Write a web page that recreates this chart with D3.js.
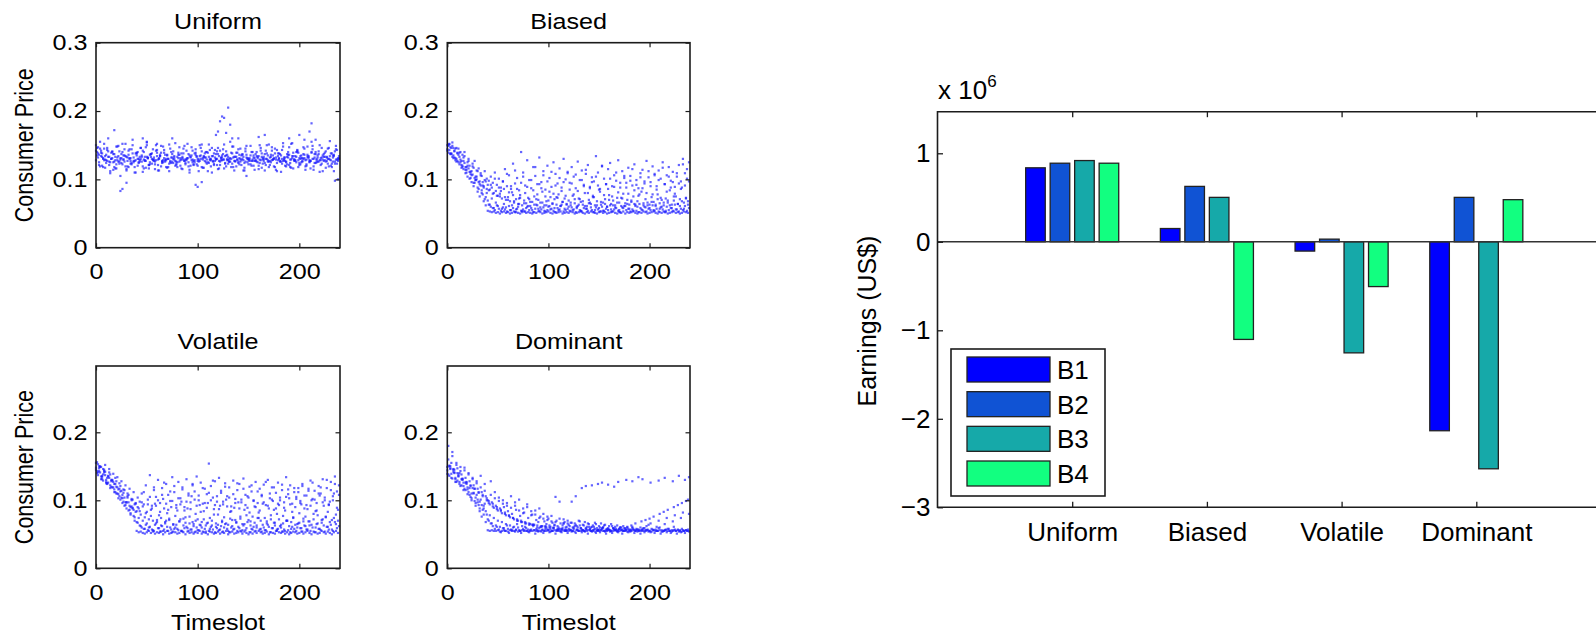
<!DOCTYPE html>
<html><head><meta charset="utf-8">
<script src="https://cdn.jsdelivr.net/npm/d3@7"></script>
<style>
body{margin:0;background:#fff}
svg{display:block}
text{font-family:"Liberation Sans",Arial,Helvetica,sans-serif;fill:#000}
</style>
</head><body>
<svg id="chart" width="1596" height="638"></svg>
<script>
// ---------------- DATA ----------------
// Consumer price (x1000); traces A, B, E start at timeslot 0, traces C, D, F at timeslot 1; one value every 2 timeslots
const uniformA = [142,138,145,133,128,136,141,125,131,137,122,134,129,140,126,133,118,131,138,127,135,124,130,142,128,133,121,137,129,126,134,131,139,125,128,136,123,132,130,127,
133,126,138,129,124,131,135,128,122,136,130,127,141,133,125,139,128,134,121,130,137,126,132,129,135,123,131,138,127,133,126,130,136,124,132,128,135,129,131,126,
134,128,123,137,130,126,133,129,138,124,131,135,127,132,122,136,129,134,127,140,131,125,137,128,133,126,139,130,124,135,128,132,137,126,130,134,123,136,129,131];
const uniformB = [150,132,155,120,145,128,160,112,140,118,148,126,105,152,135,115,142,123,150,110,138,130,146,119,127,154,116,133,144,122,139,113,149,128,136,117,151,124,141,120,
125,147,116,138,129,152,110,135,121,144,127,150,118,134,140,112,130,146,123,137,115,142,128,151,119,133,126,148,113,139,124,145,130,117,136,122,149,127,114,140,
120,146,129,113,138,151,125,135,118,143,130,111,148,127,137,121,152,116,134,142,124,131,147,119,136,128,155,114,140,126,150,123,133,117,145,129,138,112,149,127];
const uniformC = [140,136,134,131,129,127,133,130,125,128,132,126,131,129,134,127,130,124,132,128,130,126,133,129,127,131,125,130,132,128,129,134,126,131,128,130,127,132,129,126,
131,128,133,127,130,125,132,129,128,134,126,130,131,127,129,133,128,126,132,130,127,131,129,134,128,126,130,132,127,129,131,128,133,126,130,129,127,132,128,131,
129,133,127,130,126,132,128,131,129,134,127,130,128,125,132,129,131,127,133,128,130,126,131,129,134,127,130,132,128,126,131,129,133,127,130,128,132,126,129,131];
const uniformD = [146,125,139,118,134,143,121,130,137,116,128,141,124,135,119,132,144,122,127,138,120,133,126,140,117,131,136,123,129,142,121,134,127,139,118,130,125,137,132,123,
136,120,131,127,142,119,133,125,138,122,129,135,117,132,140,124,130,127,143,121,134,128,137,123,130,126,139,118,133,129,136,121,128,141,125,131,120,135,127,133,
124,138,130,121,135,127,142,119,132,128,137,123,130,126,140,118,134,129,125,139,122,131,136,120,133,127,144,124,130,137,121,135,128,132,119,138,126,141,123,134];
const uniformE = [128,147,119,138,152,124,133,109,141,126,116,149,131,122,144,113,136,127,158,118,139,125,146,111,133,150,121,137,128,115,143,130,119,148,126,135,112,140,124,153,
118,136,129,145,122,131,114,147,127,139,120,134,151,117,132,125,143,110,138,129,146,121,135,116,141,128,155,123,133,119,144,126,137,113,149,130,122,140,127,134,
115,142,131,124,150,118,136,129,145,112,138,126,153,120,133,147,117,139,128,143,121,135,130,114,148,125,140,119,137,132,111,146,127,141,123,156,118,134,144,129];
const uniformF = [135,121,142,130,117,146,126,139,114,133,148,123,137,129,152,119,131,144,125,110,140,128,135,116,147,132,122,138,127,150,113,136,124,143,130,118,145,126,134,121,
139,131,115,149,128,137,120,142,125,133,112,146,129,138,123,151,119,134,127,141,116,132,144,124,136,130,118,148,126,139,122,135,113,145,131,127,140,120,137,125,
150,117,133,142,128,121,147,130,114,138,126,143,132,119,136,124,153,129,140,118,134,127,145,122,131,116,149,137,125,141,128,112,139,133,146,120,135,123,143,130];
const uniformOutlierT = [24,26,30,18,46,50,60,75,98,100,104,118,120,122,124,126,128,130,132,134,140,148,160,166,190,200,205,210,212,216,235,238];
const uniformOutlierP = [83,86,95,172,160,155,152,160,92,89,96,165,170,185,192,190,168,205,180,160,160,105,162,165,160,165,158,170,182,158,98,100];

const biasedA = [150,143,146,135,131,138,122,127,115,118,104,111,96,90,99,82,75,84,68,62,
54,53,52,53,51,52,50,52,53,51,52,50,51,53,52,51,50,52,53,51,52,51,50,52,51,53,52,50,51,52,53,51,50,52,51,52,53,50,51,52,
51,53,52,50,51,52,53,51,50,52,51,53,52,51,50,52,53,51,52,50,51,52,53,51,50,52,51,53,50,52,51,52,53,51,50,52,51,53,52,50,
51,52,53,51,50,52,51,53,52,50,51,52,53,51,52,50,51,53,52,51];
const biasedB = [139,147,133,141,126,136,129,118,124,110,116,102,107,95,100,86,91,78,71,80,
63,60,58,55,62,57,54,59,56,53,61,55,58,52,57,64,54,56,53,60,55,58,52,57,62,54,56,59,53,55,61,57,54,52,58,56,63,53,55,57,
54,59,56,52,61,55,53,58,57,54,66,55,52,59,56,53,60,54,57,55,62,53,56,58,54,52,59,61,55,57,53,56,64,54,52,58,55,60,53,57,
55,62,54,57,53,59,56,52,60,55,58,54,63,56,53,57,55,61,54,58];
const biasedC = [144,152,138,131,145,127,139,121,132,114,125,120,106,117,99,112,93,105,88,97,
92,85,88,80,83,76,79,72,86,70,74,68,81,66,71,64,77,62,69,65,73,61,67,75,63,70,66,82,62,68,60,74,65,71,63,78,61,67,72,64,
69,62,76,65,60,72,67,63,80,61,70,64,74,62,68,85,63,66,71,60,77,64,69,62,73,66,61,79,65,70,63,67,75,61,68,64,82,62,71,66,
63,74,67,61,78,65,70,62,72,66,84,63,69,75,64,71,88,66,73,68];
const biasedD = [151,137,149,142,130,145,125,136,140,118,130,111,123,127,104,116,109,96,112,101,
98,104,95,110,92,101,88,97,115,90,106,86,123,94,102,84,140,110,91,128,99,87,118,105,93,132,96,112,85,120,102,89,125,108,94,116,83,130,100,111,
95,118,104,87,126,99,113,92,108,121,89,103,97,134,110,86,119,101,93,115,124,90,106,98,128,88,112,102,95,117,105,91,122,99,87,109,114,94,127,103,
96,119,108,90,113,101,125,93,106,118,98,111,89,104,121,97,130,109,115,125];
const biasedE = [142,151,137,146,128,139,133,117,127,109,120,101,112,95,104,88,97,80,90,74,
69,63,72,58,66,61,75,57,64,59,70,55,62,68,56,60,73,54,65,58,61,67,55,63,71,57,59,66,54,62,69,56,64,58,74,55,61,67,57,63,
60,66,55,71,58,63,54,68,61,57,65,59,76,55,62,58,67,54,64,60,70,56,62,59,66,55,73,58,61,64,57,69,54,63,60,78,56,65,59,62,
58,67,55,63,71,57,60,66,54,69,62,58,75,56,64,61,68,57,72,63];
const biasedF = [149,138,154,132,146,125,140,120,134,114,127,108,119,102,113,96,106,91,99,86,
84,92,79,101,76,88,83,97,74,108,81,90,77,113,86,72,95,104,80,89,71,99,84,118,78,93,87,106,75,97,82,111,79,91,73,102,88,96,76,109,
85,94,78,107,83,71,99,90,114,80,87,96,74,104,91,82,120,77,93,86,101,75,89,110,81,95,72,105,88,79,98,115,84,92,76,103,87,97,80,112,
90,78,106,85,99,73,117,93,82,104,88,96,79,109,94,86,122,91,101,97];

const volatileA = [148,153,141,136,145,130,126,138,119,124,110,116,101,108,92,97,85,79,88,70,
55,53,54,52,51,53,55,52,54,51,53,52,54,50,53,55,51,52,54,53,51,52,55,53,50,54,52,53,51,54,52,55,51,53,52,50,54,53,51,52,
54,51,53,52,55,50,53,54,51,52,53,55,51,54,52,50,53,51,54,52,55,53,51,52,54,50,53,52,51,55,53,52,54,51,53,50,52,54,53,51,
52,54,51,53,55,52,50,54,53,51,52,55,53,51,54,52,50,53,55,52];
const volatileB = [140,147,135,129,142,125,133,120,127,112,119,106,114,98,93,104,86,91,77,83,
67,63,60,58,64,56,61,57,55,66,59,54,62,57,70,55,60,53,58,64,56,72,54,59,61,55,57,68,53,60,56,63,54,58,66,55,61,57,53,59,
56,62,54,65,58,53,60,57,71,55,59,54,63,56,68,53,58,61,55,74,57,54,60,56,64,53,59,67,55,58,62,54,57,70,56,53,61,58,55,66,
59,54,63,57,69,55,60,53,65,58,56,72,54,61,57,64,55,68,59,62];
const volatileC = [145,137,150,131,141,127,135,122,130,116,128,109,121,103,115,97,108,90,101,94,
84,88,79,91,75,83,72,86,70,95,68,78,74,102,66,81,71,90,64,77,85,69,98,73,67,88,76,106,65,80,72,93,68,84,63,96,74,70,87,66,
79,92,68,75,101,64,83,71,89,67,97,73,65,86,78,104,69,76,91,63,82,70,95,74,66,88,72,99,67,80,93,64,77,85,70,103,68,74,90,65,
81,94,69,76,87,63,100,72,84,78,107,67,92,75,83,98,71,110,79,86];
const volatileD = [156,143,149,138,152,133,146,128,139,124,134,117,128,111,122,106,117,100,112,96,
104,98,110,94,122,101,137,92,115,105,130,96,118,88,124,108,99,134,112,93,127,103,119,90,131,107,97,122,113,135,100,126,95,117,109,154,121,104,128,98,
133,111,94,125,106,119,91,129,102,115,124,97,132,108,89,120,113,100,127,96,117,106,123,93,130,110,101,119,88,126,104,115,97,134,109,122,95,118,105,112,
99,124,107,93,117,129,102,114,96,121,110,131,100,118,94,127,106,135,113,122];
const volatileE = [155,141,149,134,143,125,136,118,129,112,120,103,113,96,104,88,97,81,89,75,
68,74,62,70,58,66,60,77,56,64,71,59,63,55,68,61,73,57,65,60,58,69,55,63,75,59,66,57,62,70,56,64,60,72,54,67,58,63,79,61,
64,57,70,60,66,55,73,62,58,68,61,76,56,65,59,71,63,57,67,60,74,58,64,56,69,61,78,59,63,57,72,60,66,55,70,62,58,75,64,60,
67,59,73,62,57,69,64,80,60,66,58,71,63,76,61,68,57,74,65,70];
const volatileF = [143,150,131,146,137,124,141,130,119,133,110,125,104,116,97,110,92,102,86,95,
90,84,97,112,81,94,105,88,119,92,100,83,108,126,95,86,113,99,121,89,103,94,116,85,98,110,87,124,101,92,107,83,118,96,89,111,100,129,93,106,
87,114,98,120,91,104,84,109,96,125,88,101,117,93,106,82,122,99,90,113,85,108,97,127,92,103,119,86,111,95,100,123,89,105,116,94,83,112,102,118,
96,121,88,107,114,92,126,101,85,110,119,97,104,130,93,115,100,124,89,108];

const dominantA = [144,151,139,146,133,129,140,122,126,115,119,108,100,111,92,97,84,76,88,68,
56,55,56,55,55,56,54,55,56,55,54,56,55,55,56,54,55,56,55,55,54,56,55,56,55,54,55,56,55,55,56,54,55,56,55,55,54,56,55,56,
55,56,55,54,56,55,55,56,54,55,56,55,55,54,56,55,56,55,54,55,56,55,55,56,54,55,56,55,55,54,56,55,56,55,54,55,56,55,55,56,
55,54,56,55,55,56,54,55,56,55,55,54,56,55,56,55,54,55,56,55];
const dominantB = [138,146,132,141,127,135,121,130,117,124,112,105,118,99,108,93,101,86,95,79,
70,66,62,58,61,57,53,59,55,63,52,57,60,54,65,56,52,58,61,55,53,57,64,51,56,59,54,52,62,57,53,55,60,51,56,58,53,66,55,52,
57,54,60,52,56,63,53,55,58,51,57,54,61,52,56,53,59,55,51,57,54,52,58,56,53,60,51,55,57,53,54,59,52,56,55,51,58,53,56,54,
53,57,52,55,59,51,54,56,53,58,52,55,57,51,54,53,56,52,55,54];
const dominantC = [149,136,155,142,131,147,127,138,121,133,116,128,110,122,104,117,98,112,92,106,
100,94,97,89,92,85,88,81,90,78,84,75,80,72,86,70,77,68,82,66,74,65,79,64,71,68,76,62,69,65,73,61,67,64,70,60,66,63,68,61,
64,67,60,66,62,70,59,64,68,61,65,60,63,67,59,62,66,60,64,58,62,65,59,61,63,58,60,62,59,61,null,63,null,66,null,null,69,null,71,null,
73,null,76,null,null,80,null,83,null,86,null,null,90,null,93,null,96,null,99,101];
const dominantD = [180,150,165,145,152,138,143,131,148,127,140,122,133,117,128,112,136,108,124,103,
99,128,95,112,90,104,86,100,82,96,78,106,74,92,70,101,68,88,66,94,64,84,62,79,60,88,61,73,58,76,63,69,59,105,62,98,57,72,60,66,
null,98,null,106,null,null,118,null,121,null,null,122,null,null,124,null,126,null,null,123,null,null,120,null,127,null,null,null,130,null,null,128,null,null,134,null,131,null,null,null,
126,null,null,null,129,null,null,133,null,null,null,128,null,null,136,null,null,130,null,134];
const dominantE = [139,150,133,145,127,140,124,131,115,126,109,118,103,110,96,101,88,93,79,84,
72,78,66,74,63,70,61,68,59,65,58,63,56,61,57,60,55,62,56,59,57,55,64,56,58,55,61,57,55,60,56,58,55,63,56,57,55,59,56,55,
58,56,55,62,57,55,59,56,55,57,61,55,56,58,55,57,56,60,55,56,57,55,59,56,55,58,56,55,57,60,55,56,58,55,57,56,55,59,56,57,
55,58,56,57,55,60,56,55,57,58,55,56,61,55,57,56,58,55,56,57];
const dominantF = [160,147,171,140,155,136,149,132,144,126,138,121,131,117,125,111,119,106,114,100,
96,108,91,103,87,99,84,95,80,92,77,89,74,97,72,85,70,81,68,90,66,78,64,85,63,74,62,80,61,71,60,77,59,68,58,73,58,66,57,70,
62,67,58,64,60,69,57,63,59,66,58,61,57,65,56,60,58,63,57,59,56,62,57,58,56,60,57,59,56,58,57,61,56,58,57,60,56,59,62,64,
66,null,null,61,70,null,null,65,74,null,null,69,78,null,null,74,82,null,null,80];

const scenarios = ["Uniform","Biased","Volatile","Dominant"];
const bidders = ["B1","B2","B3","B4"];
// Earnings in US$ x 10^6, one value per scenario
const earningsB1 = [0.836, 0.15, -0.105, -2.135];
const earningsB2 = [0.888, 0.626, 0.03, 0.502];
const earningsB3 = [0.918, 0.502, -1.255, -2.565];
const earningsB4 = [0.888, -1.103, -0.506, 0.476];
const timeslotTicks = [0,100,200];
const earningsTicks = [-3,-2,-1,0,1];

// ---------------- DRAWING ----------------
const svg = d3.select("#chart");
const INK = "#1c1c1c";
const SX = 1.17;      // horizontal text stretch of the left figure
const FS = 21.5;      // font size left figure
const BFS = 26;       // font size right figure

function stext(parent, x, y, str, size, anchor, sx, rot) {
  const g = parent.append("g").attr("transform", `translate(${x},${y}) scale(${sx},1)` + (rot ? ` rotate(${rot})` : ""));
  return g.append("text").attr("text-anchor", anchor).attr("font-size", size).text(str);
}

const scatterPanels = [
  {title:"Uniform",  traces:[[uniformA,0],[uniformB,0],[uniformE,0],[uniformC,1],[uniformD,1],[uniformF,1]], outT:uniformOutlierT, outP:uniformOutlierP,
   box:[96,340,42.7,247.7], ymax:0.3, yticks:[0,0.1,0.2,0.3], ylab:true, xlab:false, titleY:28.5},
  {title:"Biased",   traces:[[biasedA,0],[biasedC,0],[biasedE,0],[biasedB,1],[biasedD,1],[biasedF,1]],
   box:[447.3,690,42.7,247.7], ymax:0.3, yticks:[0,0.1,0.2,0.3], ylab:false, xlab:false, titleY:28.5},
  {title:"Volatile", traces:[[volatileA,0],[volatileC,0],[volatileE,0],[volatileB,1],[volatileD,1],[volatileF,1]],
   box:[96,340,366,568.3], ymax:0.2975, yticks:[0,0.1,0.2], ylab:true, xlab:true, titleY:349},
  {title:"Dominant", traces:[[dominantA,0],[dominantC,0],[dominantE,0],[dominantB,1],[dominantD,1],[dominantF,1]],
   box:[447.3,690,366,568.3], ymax:0.2975, yticks:[0,0.1,0.2], ylab:false, xlab:true, titleY:349}
];

scatterPanels.forEach(p => {
  const [x0,x1,y0,y1] = p.box;
  const x = d3.scaleLinear().domain([0,240]).range([x0,x1]);
  const y = d3.scaleLinear().domain([0,p.ymax]).range([y1,y0]);
  const pts = [];
  p.traces.forEach(([vals,start]) => vals.forEach((v,i) => { if (v != null) pts.push({t:start+2*i, p:v/1000}); }));
  if (p.outT) p.outT.forEach((t,i) => pts.push({t:t, p:p.outP[i]/1000}));
  const g = svg.append("g");
  g.selectAll("rect").data(pts).join("rect")
    .attr("x", d => x(d.t)-1.1).attr("y", d => y(d.p)-1.1)
    .attr("width", 2.2).attr("height", 2.2)
    .attr("fill", "#1a1aff").attr("opacity", 0.68);

  // axes (ticks inside, mirrored)
  const ax = [
    {a:d3.axisBottom(x).tickValues(timeslotTicks), tr:`translate(0,${y1})`, lab:true},
    {a:d3.axisTop(x).tickValues(timeslotTicks), tr:`translate(0,${y0})`, lab:false},
    {a:d3.axisLeft(y).tickValues(p.yticks), tr:`translate(${x0},0)`, lab:true},
    {a:d3.axisRight(y).tickValues(p.yticks), tr:`translate(${x1},0)`, lab:false}
  ];
  ax.forEach((o,k) => {
    o.a.tickSizeInner(-4.5).tickSizeOuter(0).tickPadding(k===0 ? 16.4 : 7.3).tickFormat(o.lab ? d3.format("") : "");
    if (k===2) o.a.tickFormat(d => d===0 ? "0" : d3.format(".1f")(d));
    const gg = svg.append("g").attr("transform", o.tr).call(o.a);
    gg.select(".domain").remove();
    gg.selectAll("line").attr("stroke", INK).attr("stroke-width", 1.2);
    gg.selectAll("text").attr("font-size", FS).attr("font-family", null).attr("fill", "#000")
      .attr("transform", `scale(${SX},1)`);
  });
  svg.append("rect").attr("x", x0).attr("y", y0).attr("width", x1-x0).attr("height", y1-y0)
    .attr("fill", "none").attr("stroke", INK).attr("stroke-width", 1.6);

  stext(svg, (x0+x1)/2, p.titleY, p.title, FS, "middle", SX);
  if (p.ylab) stext(svg, 33, (y0+y1)/2, "Consumer Price", FS, "middle", SX, -90);
  if (p.xlab) stext(svg, (x0+x1)/2, 630, "Timeslot", FS, "middle", SX);
});

// ---------------- BAR CHART ----------------
const series = [earningsB1, earningsB2, earningsB3, earningsB4];
const colors = ["#0000ff", "#1053d4", "#16a9a9", "#12ff80"];
const bx = d3.scaleLinear().domain([0,5]).range([937.5, 937.5 + 5*134.7]);
const by = d3.scaleLinear().domain([-3,1.47]).range([507.3,111.7]);
const inner = d3.scaleBand().domain(bidders).range([-0.3636,0.3636]).paddingInner(0.2).paddingOuter(0.1);
const bars = [];
series.forEach((vals,j) => vals.forEach((v,i) => bars.push({s:i, b:j, v:v})));
svg.append("g").selectAll("rect").data(bars).join("rect")
  .attr("x", d => bx(d.s+1+inner(bidders[d.b])))
  .attr("width", d => bx(inner.bandwidth()) - bx(0))
  .attr("y", d => by(Math.max(0,d.v)))
  .attr("height", d => Math.abs(by(d.v) - by(0)))
  .attr("fill", d => colors[d.b]).attr("stroke", "#222").attr("stroke-width", 1.3);

// zero baseline
svg.append("line").attr("x1", bx(0)).attr("x2", bx(5)).attr("y1", by(0)).attr("y2", by(0))
  .attr("stroke", "#333").attr("stroke-width", 1.5);

const catTicks = [1,2,3,4];
const bAxes = [
  {a:d3.axisBottom(bx).tickValues(catTicks).tickFormat((d,i)=>scenarios[i]).tickPadding(15.5), tr:`translate(0,${by(-3)})`},
  {a:d3.axisTop(bx).tickValues(catTicks).tickFormat(""), tr:`translate(0,${by(1.47)})`},
  {a:d3.axisLeft(by).tickValues(earningsTicks).tickFormat(d3.format("d")).tickPadding(7), tr:`translate(${bx(0)},0)`}
];
bAxes.forEach(o => {
  o.a.tickSizeInner(-5.5).tickSizeOuter(0);
  const gg = svg.append("g").attr("transform", o.tr).call(o.a);
  gg.select(".domain").remove();
  gg.selectAll("line").attr("stroke", INK).attr("stroke-width", 1.3);
  gg.selectAll("text").attr("font-size", BFS).attr("font-family", null).attr("fill", "#000");
});
// box (right side lies beyond the picture)
svg.append("path")
  .attr("d", `M${bx(5)},${by(1.47)}H${bx(0)}V${by(-3)}H${bx(5)}`)
  .attr("fill", "none").attr("stroke", INK).attr("stroke-width", 1.6);

// exponent label
const ex = svg.append("text").attr("x", 938).attr("y", 99).attr("font-size", BFS);
ex.append("tspan").text("x 10");
ex.append("tspan").attr("font-size", 17).attr("dy", -12).text("6");

// y label
svg.append("text").attr("transform", `translate(876,321) rotate(-90)`)
  .attr("text-anchor", "middle").attr("font-size", 25).text("Earnings (US$)");

// legend
const lg = svg.append("g");
lg.append("rect").attr("x", 951).attr("y", 349).attr("width", 154).attr("height", 147)
  .attr("fill", "#fff").attr("stroke", INK).attr("stroke-width", 1.6);
const ly = d3.scalePoint().domain(bidders).range([369.5, 473.5]);
bidders.forEach((b,j) => {
  lg.append("rect").attr("x", 967).attr("y", ly(b)-12.5).attr("width", 83).attr("height", 25)
    .attr("fill", colors[j]).attr("stroke", "#222").attr("stroke-width", 1.3);
  lg.append("text").attr("x", 1057).attr("y", ly(b)+9.5).attr("font-size", BFS).text(b);
});
</script>
</body></html>
